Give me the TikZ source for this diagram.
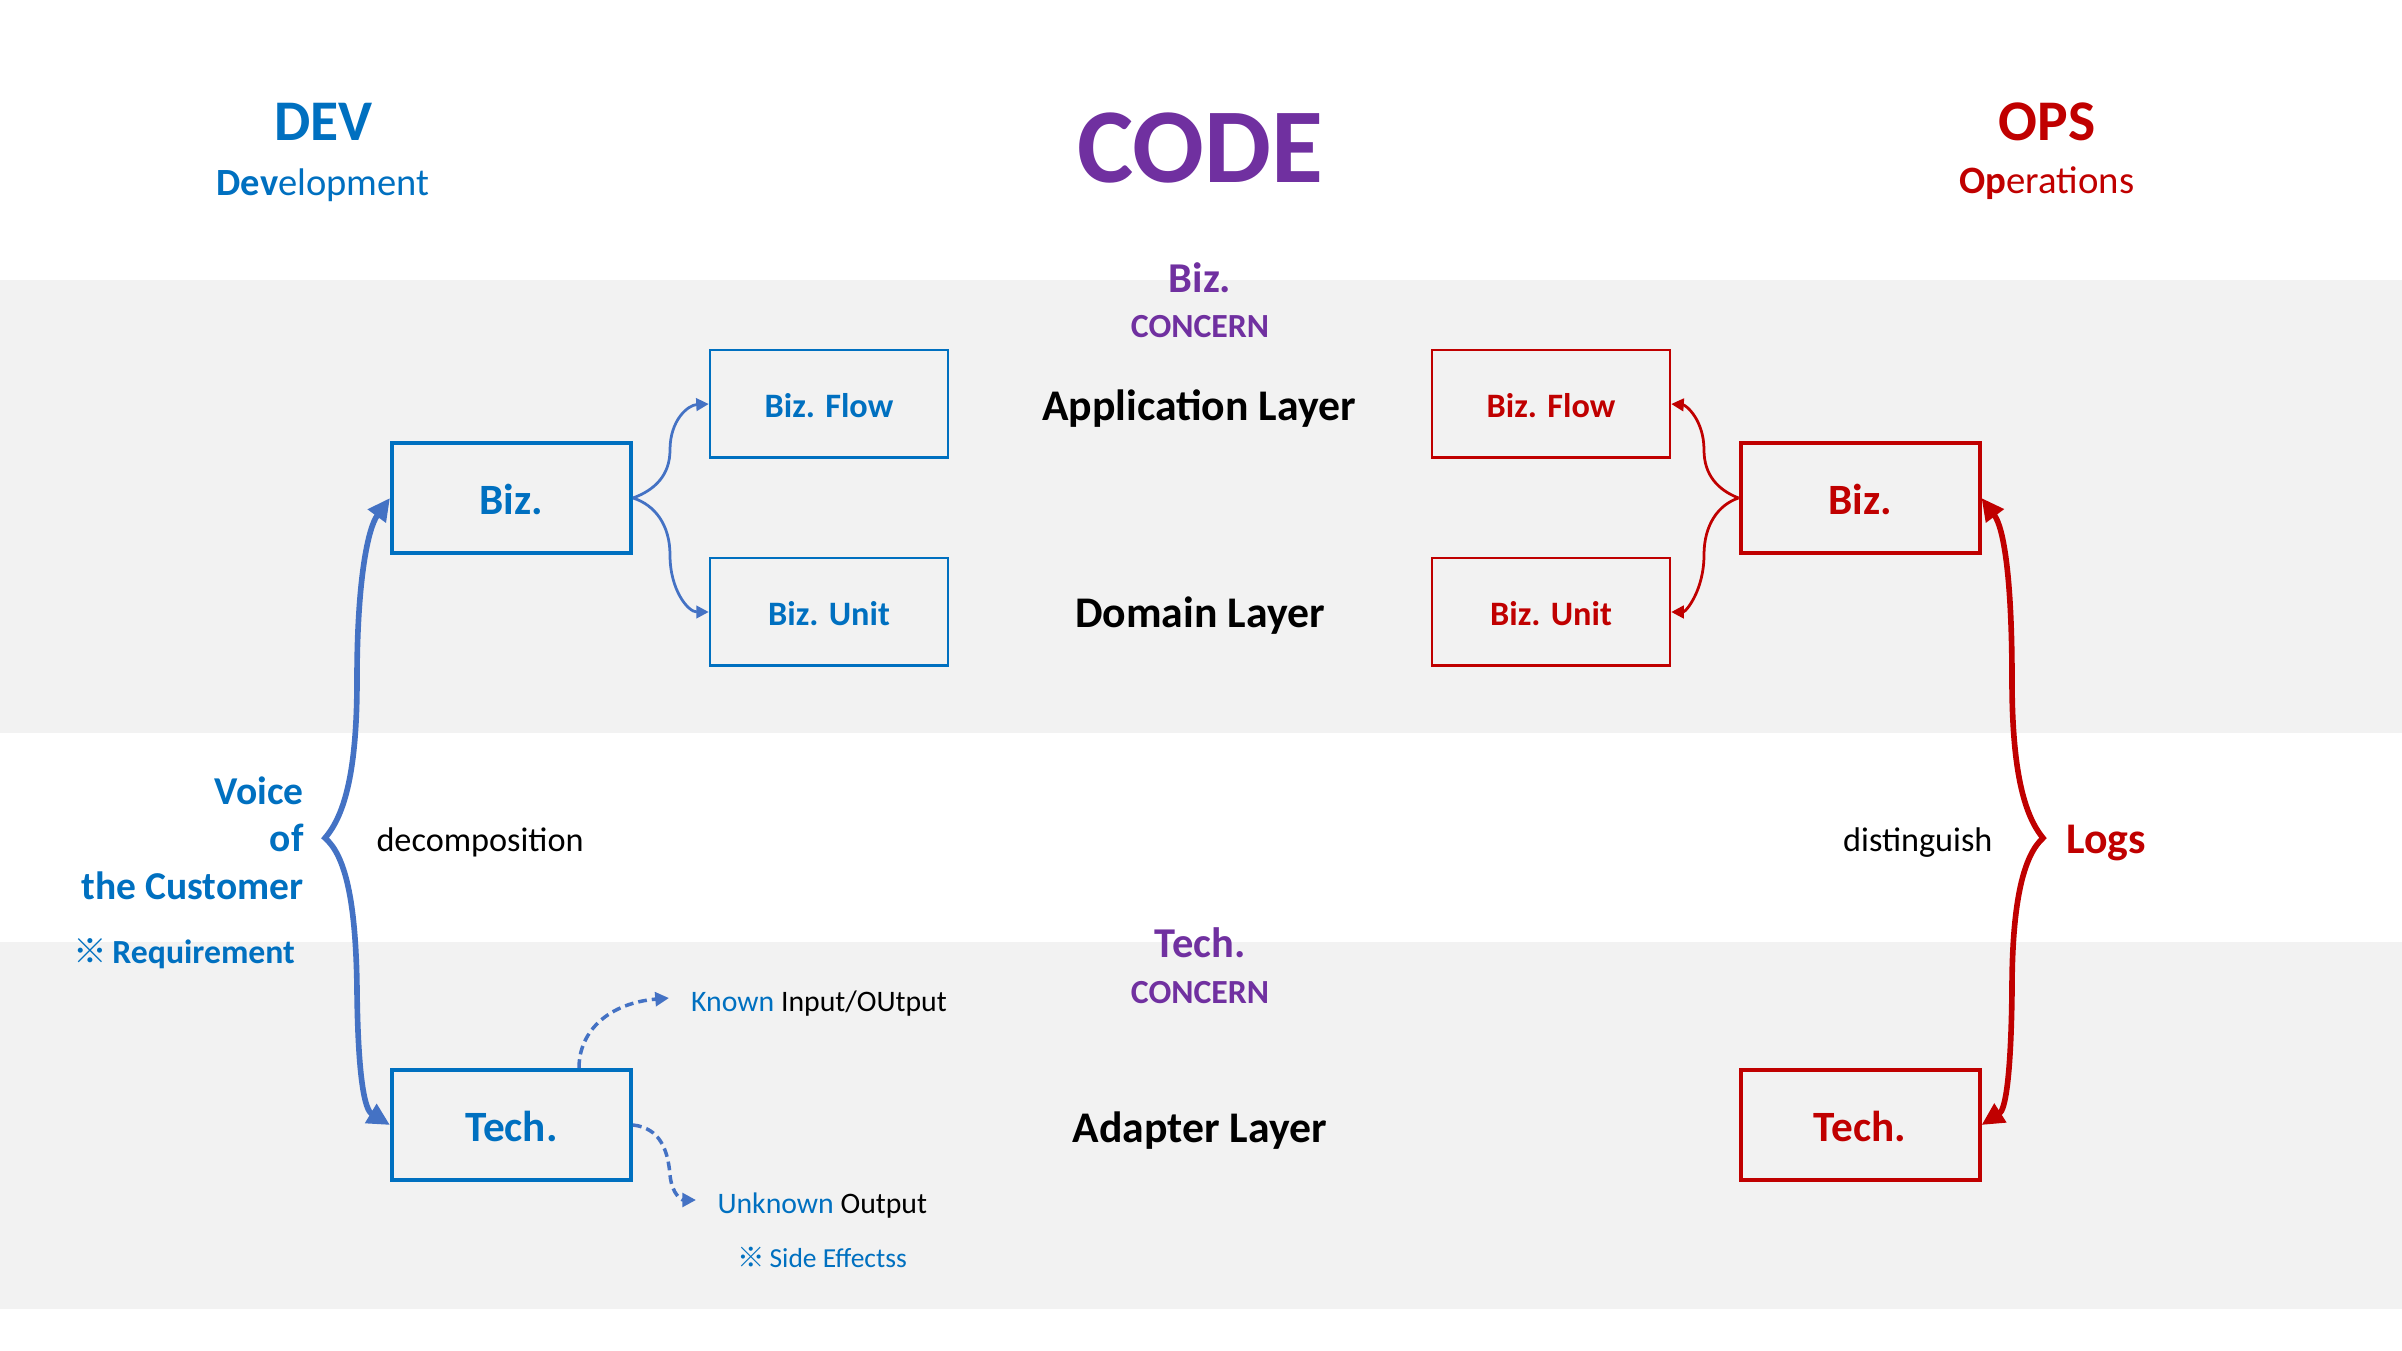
\documentclass[tikz,border=0pt]{standalone}
\usepackage{fontspec}
\setmainfont{Carlito}
\newfontfamily\cjkf{Noto Sans CJK KR}
\usetikzlibrary{arrows.meta,calc}
\definecolor{dblue}{HTML}{0070C0}
\definecolor{ablue}{HTML}{4472C4}
\definecolor{dred}{HTML}{C00000}
\definecolor{dpurple}{HTML}{7030A0}
\definecolor{lgrey}{HTML}{F2F2F2}
\newcommand{\myfs}[1]{\fontsize{#1}{#1}\selectfont}
\begin{document}
\begin{tikzpicture}[x=0.4pt,y=-0.4pt,
  txt/.style={inner sep=0pt, anchor=base, yshift=-1.2pt},
  thickbox/.style={line width=1.6pt, minimum width=95.6pt, minimum height=44pt,
    inner sep=0pt, font=\bfseries\myfs{17.3}, text height=13.4pt, text depth=0pt},
  thinbox/.style={line width=1pt, minimum width=95.2pt, minimum height=43pt,
    inner sep=0pt, font=\bfseries\myfs{13.7}, text height=10.6pt, text depth=0pt},
  devbox/.style={draw=dblue, text=dblue},
  opsbox/.style={draw=dred, text=dred},
  bigarrow/.style={line width=2.25pt,
    {Triangle[length=9pt,width=8.5pt]}-{Triangle[length=9pt,width=8.5pt]}},
  smallarrow/.style={line width=1.1pt, -{Triangle[length=5pt,width=5pt]}},
  dasharrow/.style={line width=1.4pt, dash pattern=on 3.5pt off 2pt,
    -{Triangle[length=5.5pt,width=5.5pt]}},
  layer/.style={txt, font=\bfseries\myfs{17.5}, text=black},
  concern/.style={txt, font=\bfseries\myfs{13.5}, text=dpurple}
]
\useasboundingbox (0,0) rectangle (2402,1351);
\fill[white] (0,0) rectangle (2402,1351);
\fill[lgrey] (0,280) rectangle (2402,733);
\fill[lgrey] (0,942) rectangle (2402,1309);

% headers
\node[txt, font=\bfseries\myfs{23}, text=dblue] (dev) at (323.5,138) {DEV};
\node[txt, font=\myfs{15.4}, text=dblue] (devl) at (323,193) {\textbf{Dev}elopment};
\node[txt, font=\bfseries\myfs{42.5}, text=dpurple] (code) at (1200.5,180) {CODE};
\node[txt, font=\bfseries\myfs{23}, text=dred] (ops) at (2047,138) {OPS};
\node[txt, font=\myfs{15.5}, text=dred] (opsl) at (2047,191) {\textbf{Op}erations};

% concerns and layers
\node[txt, font=\bfseries\myfs{17}, text=dpurple] (bizc) at (1200,290) {Biz.};
\node[concern] (bizcc) at (1200,335) {CONCERN};
\node[layer] (appl) at (1199,418) {Application Layer};
\node[layer] (doml) at (1200,625) {Domain Layer};
\node[txt, font=\bfseries\myfs{17}, text=dpurple] (techc) at (1200,954) {Tech.};
\node[concern] (techcc) at (1200,1000) {CONCERN};
\node[layer] (adal) at (1200,1139) {Adapter Layer};

% boxes DEV
\node[thickbox, devbox] (lbiz) at (511.5,498) {Biz.};
\node[thinbox, devbox] (lflow) at (829,404) {Biz. Flow};
\node[thinbox, devbox] (lunit) at (829,612) {Biz. Unit};
\node[thickbox, devbox] (ltech) at (511.5,1125) {Tech.};

% boxes OPS
\node[thickbox, opsbox] (rbiz) at (1860,498) {Biz.};
\node[thinbox, opsbox] (rflow) at (1551,404) {Biz. Flow};
\node[thinbox, opsbox] (runit) at (1551,612) {Biz. Unit};
\node[thickbox, opsbox] (rtech) at (1860,1125) {Tech.};

% side labels
\node[txt, anchor=base east, font=\bfseries\myfs{15.8}, text=dblue] (voice1) at (304,802) {Voice};
\node[txt, anchor=base east, font=\bfseries\myfs{15.8}, text=dblue] (voice2) at (304,849) {of};
\node[txt, anchor=base east, font=\bfseries\myfs{15.8}, text=dblue] (voice3) at (304,897) {the Customer};
\node[txt, anchor=base west, font=\bfseries\myfs{13.5}, text=dblue] (req) at (72.5,960) {{\cjkf ※}\,Requirement};
\node[txt, anchor=base west, font=\myfs{13.7}, text=black] (decomp) at (376,849) {decomposition};
\node[txt, anchor=base east, font=\myfs{13.7}, text=black] (disting) at (1993,849) {distinguish};
\node[txt, anchor=base west, font=\bfseries\myfs{17.5}, text=dred] (logs) at (2066,851) {Logs};
\node[txt, anchor=base west, font=\myfs{11.9}, text=black] (known) at (690.7,1008) {\textcolor{dblue}{Known} Input/OUtput};
\node[txt, anchor=base west, font=\myfs{11.9}, text=black] (unknown) at (717,1210) {\textcolor{dblue}{Unknown} Output};
\node[txt, anchor=base west, font=\myfs{11}, text=dblue] (side) at (737,1264) {{\cjkf ※}\,Side Effectss};

% big brace arrows
\draw[bigarrow, ablue] (lbiz.west) .. controls (368,528) and (357,580) .. (357,680)
  .. controls (357,770) and (345,815) .. (325,838)
  .. controls (345,855) and (356,900) .. (357,990)
  .. controls (358,1080) and (365,1110) .. (ltech.west);
\draw[bigarrow, dred] (rbiz.east) .. controls (2004,528) and (2012,580) .. (2012,680)
  .. controls (2012,770) and (2024,815) .. (2043,838)
  .. controls (2024,855) and (2012,900) .. (2012,990)
  .. controls (2011,1080) and (2005,1110) .. (rtech.east);

% small connectors
\draw[smallarrow, ablue] (lbiz.east) .. controls (655,490) and (670,475) .. (670,450)
  .. controls (670,420) and (688,405) .. (lflow.west);
\draw[smallarrow, ablue] (lbiz.east) .. controls (655,505) and (670,525) .. (670,555)
  .. controls (670,590) and (688,612) .. (lunit.west);
\draw[smallarrow, dred] (rbiz.west) .. controls (1718,490) and (1704,475) .. (1704,450)
  .. controls (1704,420) and (1686,405) .. (rflow.east);
\draw[smallarrow, dred] (rbiz.west) .. controls (1718,505) and (1704,525) .. (1704,555)
  .. controls (1704,590) and (1686,612) .. (runit.east);

% dashed arrows
\coordinate (kstart) at ($(ltech.north)+(67.5,0)$);
\coordinate (kend) at (669,998);
\coordinate (uend) at (696,1200);
\draw[dasharrow, ablue] (kstart) .. controls (579,1030) and (610,1003) .. (kend);
\draw[dasharrow, ablue] (ltech.east) .. controls (660,1128) and (668,1150) .. (670,1175)
  .. controls (672,1195) and (682,1200) .. (uend);
\end{tikzpicture}
\end{document}
